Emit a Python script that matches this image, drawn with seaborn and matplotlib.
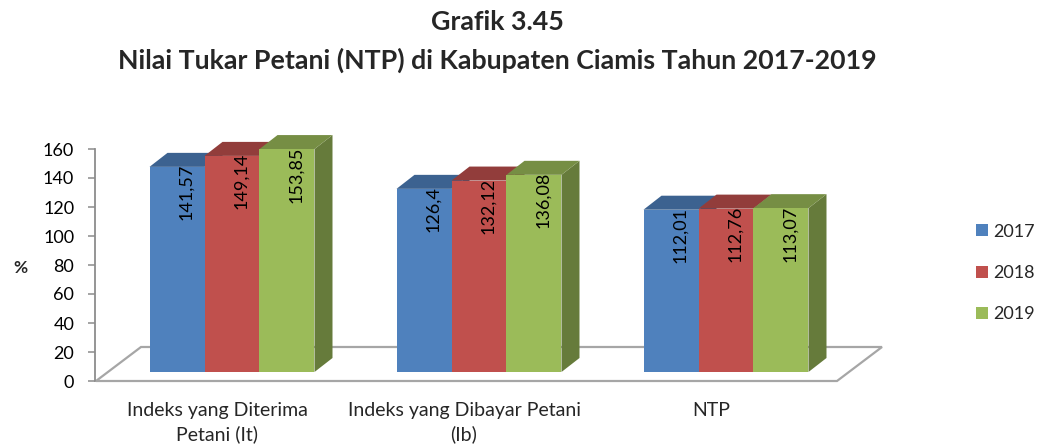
import numpy as np
import pandas as pd
import matplotlib
matplotlib.use("Agg")
import matplotlib.pyplot as plt
from matplotlib.patches import Polygon, Rectangle
from matplotlib.colors import to_rgb
import seaborn as sns

# --- data -------------------------------------------------------------
categories = ["Indeks yang Diterima\nPetani (It)",
              "Indeks yang Dibayar Petani\n(Ib)",
              "NTP"]
years = ["2017", "2018", "2019"]
values_2017 = [141.57, 126.4, 112.01]
values_2018 = [149.14, 132.12, 112.76]
values_2019 = [153.85, 136.08, 113.07]
value_labels_2017 = ["141,57", "126,4", "112,01"]
value_labels_2018 = ["149,14", "132,12", "112,76"]
value_labels_2019 = ["153,85", "136,08", "113,07"]
y_ticks = [0, 20, 40, 60, 80, 100, 120, 140, 160]
colors = ["#4F81BD", "#C0504D", "#9BBB59"]

df = pd.DataFrame({
    "kategori": categories * 3,
    "tahun": [y for y in years for _ in categories],
    "nilai": values_2017 + values_2018 + values_2019,
    "label": value_labels_2017 + value_labels_2018 + value_labels_2019,
})

# --- figure geometry (pixels) ----------------------------------------
W, H = 1044, 444
DPI = 100
GROUP_PX = 247.0        # distance between category centres
FIRST_PX = 232.0        # centre of first category's front faces
BASE_PX = 372.0         # baseline of bar front faces
UNIT_PX = 1.449         # pixels per value unit
DEPTH_PX = (18.0, 14.0) # 3-D depth offset of bars
BAR_GROUP_W = 0.668

sns.set_theme(style="white")
plt.rcParams["font.family"] = ["Lato", "DejaVu Sans"]

fig = plt.figure(figsize=(W / DPI, H / DPI), dpi=DPI)
ax = fig.add_axes([0, 0, 1, 1])

sns.barplot(data=df, x="kategori", y="nilai", hue="tahun", order=categories,
            hue_order=years, palette=colors, width=BAR_GROUP_W, gap=0,
            saturation=1, ax=ax, legend=False, linewidth=0, zorder=3)

ax.set_xlim(-FIRST_PX / GROUP_PX, (W - FIRST_PX) / GROUP_PX)
ax.set_ylim((BASE_PX - H) / UNIT_PX, BASE_PX / UNIT_PX)
ax.axis("off")

def px_to_data(x, y):
    return (x - FIRST_PX) / GROUP_PX, (BASE_PX - y) / UNIT_PX

# floor of the 3-D plot area
floor_px = [(96, 381), (837, 381), (882, 347), (141, 347)]
ax.add_patch(Polygon([px_to_data(*p) for p in floor_px], closed=True,
                     facecolor="white", edgecolor="#A6A6A6", lw=1.6, zorder=0.5))

dx = DEPTH_PX[0] / GROUP_PX
dy = DEPTH_PX[1] / UNIT_PX

def shade(c, f):
    r, g, b = to_rgb(c)
    return (r * f, g * f, b * f)

bars = [p for p in ax.patches if isinstance(p, Rectangle) and p.get_height() > 0]
bars.sort(key=lambda p: p.get_x())
for p in bars:
    x0, w, h = p.get_x(), p.get_width(), p.get_height()
    fc = p.get_facecolor()
    top = [(x0, h), (x0 + w, h), (x0 + w + dx, h + dy), (x0 + dx, h + dy)]
    side = [(x0 + w, 0), (x0 + w + dx, dy), (x0 + w + dx, h + dy), (x0 + w, h)]
    ax.add_patch(Polygon(side, closed=True, facecolor=shade(fc, 0.66),
                         edgecolor="none", zorder=2))
    ax.add_patch(Polygon(top, closed=True, facecolor=shade(fc, 0.76),
                         edgecolor="none", zorder=2))

# value labels, rotated, inside the top of each bar
label_lookup = {(r.kategori, r.tahun): r.label for r in df.itertuples()}
bw = BAR_GROUP_W / 3
for j, yr in enumerate(years):
    for i, cat in enumerate(categories):
        v = df[(df.kategori == cat) & (df.tahun == yr)].nilai.iloc[0]
        xc = i - BAR_GROUP_W / 2 + bw * (j + 0.5) + dx / 2
        ax.text(xc, v + 2, label_lookup[(cat, yr)], rotation=90,
                ha="center", va="top", fontsize=13, color="black", zorder=5)

# category labels below the floor
for i, cat in enumerate(categories):
    ax.text(i - 15 / GROUP_PX, 1 - 402 / H, cat, transform=ax.get_xaxis_transform(),
            ha="center", va="top", fontsize=14, linespacing=1.45)

# value axis on the left
axl = fig.add_axes([95 / W, (H - 381) / H, 0.0005, 232 / H])
axl.set_ylim(0, 160)
axl.set_yticks(y_ticks)
axl.set_yticklabels([str(t) for t in y_ticks], fontsize=13)
axl.set_xticks([])
axl.patch.set_alpha(0)
for s in ["top", "right", "bottom"]:
    axl.spines[s].set_visible(False)
axl.spines["left"].set_color("#8C8C8C")
axl.spines["left"].set_linewidth(1.3)
axl.tick_params(axis="y", left=True, length=5, width=1.1, color="#8C8C8C",
                pad=10, labelcolor="black")
fig.text(20 / W, 1 - 268 / H, "%", ha="center", va="center",
         fontsize=12.5, fontweight="bold")

# legend
handles = [Rectangle((0, 0), 1, 1, facecolor=c, edgecolor="none") for c in colors]
fig.legend(handles, years, loc="center left", bbox_to_anchor=(976 / W, 1 - 273 / H),
           frameon=False, fontsize=13, handlelength=0.66, handleheight=0.66,
           handletextpad=0.3, labelspacing=1.4, borderpad=0, borderaxespad=0)

# titles
fig.text(0.476, 1 - 22 / H, "Grafik 3.45", ha="center", va="center",
         fontsize=19.3, fontweight="bold")
fig.text(0.476, 1 - 60 / H,
         "Nilai Tukar Petani (NTP) di Kabupaten Ciamis Tahun 2017-2019",
         ha="center", va="center", fontsize=19.3, fontweight="bold")

fig.savefig("out.png", dpi=DPI)
